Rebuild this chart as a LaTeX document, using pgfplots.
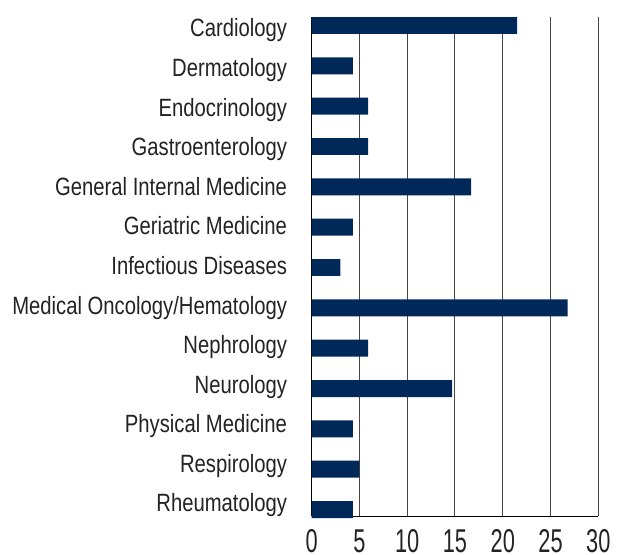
\documentclass[border=0pt]{standalone}
\usepackage{pgfplots}
\pgfplotsset{compat=1.18}
\usepackage{pgfplotstable}
\usepackage{fontspec}
\setmainfont{Liberation Sans}
\newfontfamily\labfont[FakeStretch=0.81]{Liberation Sans}
\newfontfamily\tickfont[FakeStretch=0.66]{Liberation Sans}
\definecolor{barnavy}{RGB}{0,41,90}
\definecolor{gridc}{RGB}{70,70,70}
\definecolor{txt}{RGB}{35,35,35}

% value per specialty, top to bottom
\pgfplotstableread{
idx value
0 21.5
1 4.3
2 5.9
3 5.9
4 16.7
5 4.3
6 3.0
7 26.8
8 5.9
9 14.7
10 4.3
11 5.0
12 4.3
}\datatable

\begin{document}
\begin{tikzpicture}
\useasboundingbox (-311.7bp,-39bp) rectangle (306.3bp,516bp);
\begin{axis}[
    at={(0,0)},anchor=south west,
    scale only axis,
    width=286.6bp,height=499bp,
    xmin=0,xmax=30,
    ymin=-0.21,ymax=12.16,
    y dir=reverse,
    axis lines=none,
    xtick={0,5,...,30},
    % label baselines are spaced a little tighter than the bars
    ytick={0.285,1.266,2.247,3.228,4.210,5.191,6.172,7.153,8.134,9.115,10.097,11.078,12.059},
    yticklabels={Cardiology,Dermatology,Endocrinology,Gastroenterology,General Internal Medicine,Geriatric Medicine,Infectious Diseases,Medical Oncology/Hematology,Nephrology,Neurology,Physical Medicine,Respirology,Rheumatology},
    major tick length=0pt,
    xmajorgrids,
    grid style={gridc,line width=1bp},
    yticklabel style={font=\fontsize{25bp}{28bp}\labfont,text=txt,inner sep=0pt,anchor=base east,xshift=-24.5bp},
    xticklabel style={font=\fontsize{33bp}{36bp}\tickfont,text=txt,inner sep=0pt,anchor=base,yshift=-36bp},
    /pgf/number format/assume math mode=true,
    hide x axis=false,hide y axis=false,
    clip=false
]
    \addplot[xbar,bar width=0.42,fill=barnavy,draw=none] table[x=value,y=idx] \datatable;
\end{axis}
\end{tikzpicture}
\end{document}
